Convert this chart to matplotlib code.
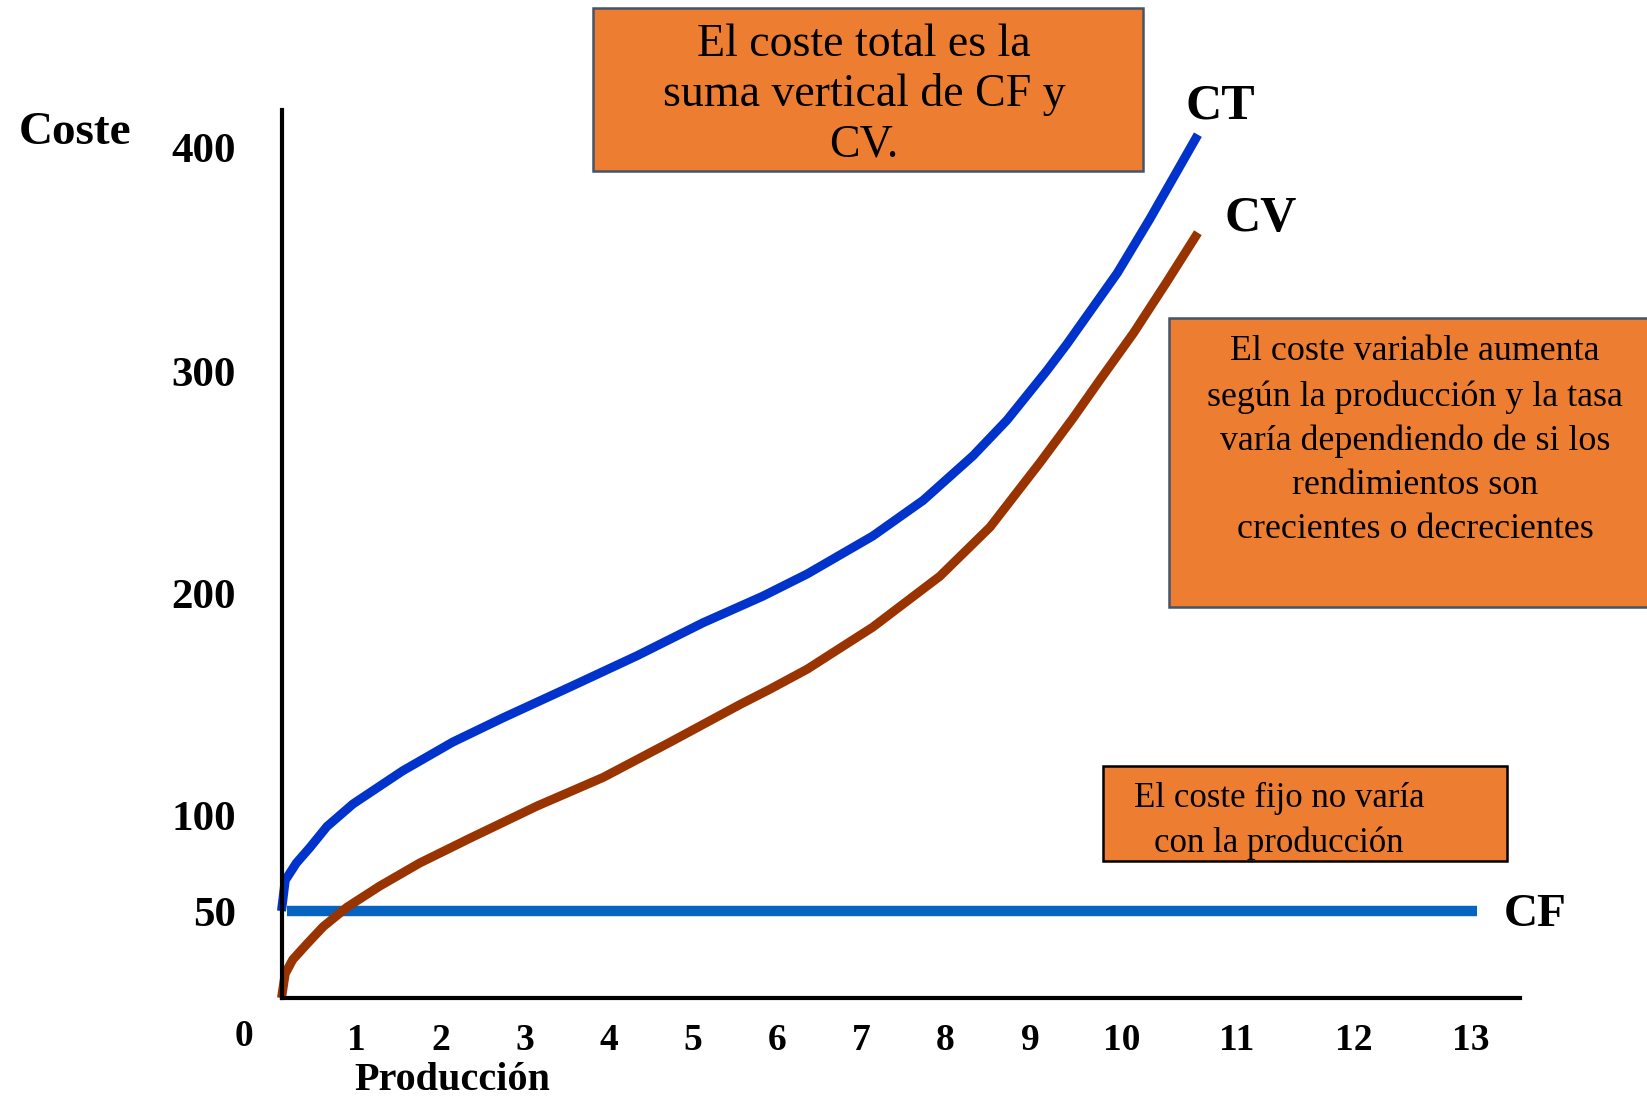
import matplotlib.pyplot as plt
import numpy as np
from matplotlib.patches import Rectangle

W, H = 1647, 1103

# Producción (x) y coste (y) a lo largo de cada curva
ct_q = [0, 0.05, 0.20, 0.38, 0.61, 0.96, 1.55, 2.14, 2.74, 3.54, 4.33, 5.12,
        5.83, 6.36, 7.14, 7.74, 8.33, 8.73, 9.18, 9.40, 9.95, 10.24, 10.66]
ct = [50, 66, 75, 83, 94, 105, 120, 133, 144, 158, 172, 187,
      199, 209, 226, 242, 262, 278, 300, 312, 344, 368, 406]

cv_q = [0, 0.05, 0.15, 0.34, 0.56, 0.88, 1.28, 1.75, 2.35, 3.14, 3.93, 4.73,
        5.56, 5.92, 6.36, 7.14, 7.94, 8.53, 9.11, 9.47, 9.76, 10.10, 10.39, 10.66]
cv = [0, 14, 22, 31, 41, 52, 63, 75, 88, 104, 117, 133,
      150, 157, 166, 185, 208, 230, 259, 279, 296, 317, 340, 362]

cf_q = [0.07, 13.05]
cf = [50, 50]

x_ticks = list(range(1, 14))
y_ticks = [50, 100, 200, 300, 400]

# the slide's axes are not evenly spaced: piecewise scale through the tick positions
x_knots = np.arange(0, 15)
x_px = np.array([281.5, 356, 441, 525, 609, 693, 777, 861, 945, 1030,
                 1122, 1237, 1354, 1471, 1588])
y_knots = np.array([0, 50, 100, 200, 300, 400, 450])
y_px = H - np.array([998, 911, 815, 594, 371, 148, 37])

def fwd_x(v):
    return np.interp(v, x_knots, x_px)

def inv_x(p):
    return np.interp(p, x_px, x_knots)

def fwd_y(v):
    return np.interp(v, y_knots, y_px)

def inv_y(p):
    return np.interp(p, y_px, y_knots)

ax_left, ax_right, ax_top, ax_bottom = 281.5, 1520, 110, 998

fig = plt.figure(figsize=(W / 100, H / 100), dpi=100)
ax = fig.add_axes([ax_left / W, (H - ax_bottom) / H,
                   (ax_right - ax_left) / W, (ax_bottom - ax_top) / H])
ax.set_xscale('function', functions=(fwd_x, inv_x))
ax.set_yscale('function', functions=(fwd_y, inv_y))
ax.set_xlim(0, inv_x(ax_right))
ax.set_ylim(0, inv_y(H - ax_top))

for s in ['top', 'right']:
    ax.spines[s].set_visible(False)
for s in ['left', 'bottom']:
    ax.spines[s].set_linewidth(3)
    ax.spines[s].set_color('black')
ax.spines['left'].set_bounds(-3, inv_y(H - ax_top))

bold = dict(family='Liberation Serif', weight='bold')

ax.set_xticks(x_ticks, [str(t) for t in x_ticks])
ax.set_yticks(y_ticks, [str(t) for t in y_ticks])
ax.tick_params(axis='x', length=0, pad=18, labelsize=27)
ax.tick_params(axis='y', length=0, pad=33, labelsize=31)
for lab in ax.get_xticklabels() + ax.get_yticklabels():
    lab.set_fontfamily('Liberation Serif')
    lab.set_fontweight('bold')
ax.minorticks_off()

ax.annotate('0', xy=(0, 0), xytext=(-38, -38), textcoords='offset pixels',
            ha='center', va='center', fontsize=27, **bold)

# curvas
ax.plot(cf_q, cf, color='#0563C1', lw=7.5, solid_capstyle='butt', clip_on=False)
ax.plot(cv_q, cv, color='#993300', lw=6.5, solid_capstyle='butt',
        solid_joinstyle='round', clip_on=False)
ax.plot(ct_q, ct, color='#0033CC', lw=6.5, solid_capstyle='butt',
        solid_joinstyle='round', clip_on=False)

ax.annotate('CT', xy=(ct_q[-1], ct[-1]), xytext=(22, 28), textcoords='offset pixels',
            ha='center', va='center', fontsize=36, **bold)
ax.annotate('CV', xy=(cv_q[-1], cv[-1]), xytext=(63, 14), textcoords='offset pixels',
            ha='center', va='center', fontsize=36, **bold)
ax.annotate('CF', xy=(cf_q[-1], cf[-1]), xytext=(58, -4), textcoords='offset pixels',
            ha='center', va='center', fontsize=34, **bold)

fig.text(75 / W, 1 - 133 / H, 'Coste', ha='center', va='center', fontsize=34, **bold)
fig.text(452 / W, 1 - 1081 / H, 'Producción', ha='center', va='center', fontsize=29, **bold)

# cuadros de texto
orange = '#ED7D31'

def box(x0, y0, x1, y1, edge, lines, cx, ys, size):
    fig.add_artist(Rectangle((x0 / W, 1 - y1 / H), (x1 - x0) / W, (y1 - y0) / H,
                             transform=fig.transFigure, facecolor=orange,
                             edgecolor=edge, linewidth=1.8))
    for txt, y in zip(lines, ys):
        fig.text(cx / W, 1 - y / H, txt, ha='center', va='center',
                 fontsize=size, family='Liberation Serif')

box(593, 8, 1143, 171, '#44546A',
    ['El coste total es la', 'suma vertical de CF y', 'CV.'],
    864, [45, 95, 145], 33)
box(1169, 318, 1660, 607, '#44546A',
    ['El coste variable aumenta', 'según la producción y la tasa',
     'varía dependiendo de si los', 'rendimientos son',
     'crecientes o decrecientes'],
    1415, [352, 397, 441, 486, 530], 25.8)
box(1103, 766, 1507, 861, 'black',
    ['El coste fijo no varía', 'con la producción'],
    1279, [798, 843], 25)

fig.savefig('out.png', dpi=100)
